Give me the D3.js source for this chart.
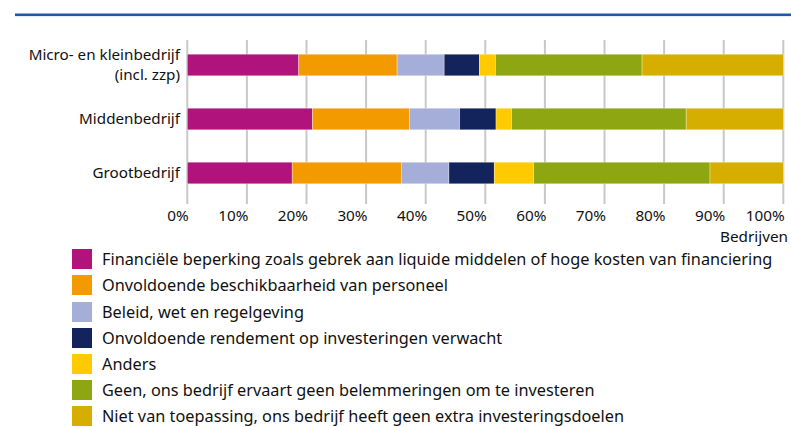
<!DOCTYPE html>
<html><head><meta charset="utf-8">
<script src="https://cdn.jsdelivr.net/npm/d3@7"></script>
<style>
html,body{margin:0;padding:0;background:#fff;}
svg{display:block;font-family:"Noto Sans",sans-serif;}
</style></head>
<body>
<svg id="chart" width="791" height="427"></svg>
<script>
const categories = ["Micro- en kleinbedrijf|(incl. zzp)", "Middenbedrijf", "Grootbedrijf"];
const seriesNames = [
  "Financiële beperking zoals gebrek aan liquide middelen of hoge kosten van financiering",
  "Onvoldoende beschikbaarheid van personeel",
  "Beleid, wet en regelgeving",
  "Onvoldoende rendement op investeringen verwacht",
  "Anders",
  "Geen, ons bedrijf ervaart geen belemmeringen om te investeren",
  "Niet van toepassing, ons bedrijf heeft geen extra investeringsdoelen"
];
const colors = ["#b0137c", "#f39a00", "#a4aed9", "#13235b", "#ffcb00", "#8fa613", "#d6ae00"];
const financieel = [18.7, 21.0, 17.6];
const personeel  = [16.5, 16.3, 18.3];
const beleid     = [7.9, 8.4, 8.0];
const rendement  = [5.9, 6.1, 7.6];
const anders     = [2.7, 2.6, 6.6];
const geen       = [24.6, 29.3, 29.6];
const nvt        = [23.7, 16.3, 12.3];
const tickValues = [0,10,20,30,40,50,60,70,80,90,100];
const axisTitle = "Bedrijven";

const seriesValues = [financieel, personeel, beleid, rendement, anders, geen, nvt];
const rows = categories.map((c, i) => {
  const r = {cat: c};
  seriesNames.forEach((s, j) => r[s] = seriesValues[j][i]);
  return r;
});

const svg = d3.select("#chart");
const x = d3.scaleLinear().domain([0, 100]).range([187.3, 783.3]);
const y = d3.scaleBand().domain(categories).range([38, 200]).paddingInner(0.6).paddingOuter(0.3);
const color = d3.scaleOrdinal().domain(seriesNames).range(colors);

// top rule
svg.append("rect").attr("x", 15).attr("y", 13.5).attr("width", 776).attr("height", 2.6).attr("fill", "#1b5ba3");

// gridlines
svg.append("g").selectAll("line").data(tickValues).join("line")
  .attr("x1", d => x(d)).attr("x2", d => x(d))
  .attr("y1", 40).attr("y2", 204)
  .attr("stroke", "#c8c8c8").attr("stroke-width", 2);

// axis labels
svg.append("g").selectAll("text").data(tickValues).join("text")
  .attr("x", d => x(d) + 1.5).attr("y", 221)
  .attr("text-anchor", "end").attr("font-size", 15.3).attr("fill", "#111")
  .text(d => d + "%");
svg.append("text").attr("x", 788).attr("y", 242).attr("text-anchor", "end")
  .attr("font-size", 15.3).attr("fill", "#111").text(axisTitle);

// bars
const stack = d3.stack().keys(seriesNames)(rows);
svg.append("g").selectAll("g").data(stack).join("g")
  .attr("fill", d => color(d.key))
  .selectAll("rect").data(d => d).join("rect")
  .attr("x", d => x(d[0])).attr("width", d => x(d[1]) - x(d[0]))
  .attr("y", d => y(d.data.cat)).attr("height", y.bandwidth())
  .attr("stroke", "rgba(255,255,255,0.55)").attr("stroke-width", 0.6);

// category labels (one text element per line)
const labelLines = [];
categories.forEach(c => {
  const parts = c.split("|");
  parts.forEach((p, i) => labelLines.push({cat: c, text: p, i, n: parts.length}));
});
const lineGap = 20.5;
svg.append("g").selectAll("text").data(labelLines).join("text")
  .attr("text-anchor", "end").attr("font-size", 15.2).attr("fill", "#111")
  .attr("x", 180)
  .attr("y", d => y(d.cat) + y.bandwidth() / 2 + 5 - (d.n - 1) * lineGap / 2 + d.i * lineGap)
  .text(d => d.text);

// legend
const legendY = [249, 275, 302, 328, 354, 380, 406];
const lg = svg.append("g").selectAll("g").data(seriesNames).join("g")
  .attr("transform", (d, i) => `translate(72,${legendY[i]})`);
lg.append("rect").attr("width", 20).attr("height", 20).attr("fill", d => color(d));
lg.append("text").attr("x", 30).attr("y", 15.5).attr("font-size", 16.3).attr("fill", "#111").text(d => d);
</script>
</body></html>
